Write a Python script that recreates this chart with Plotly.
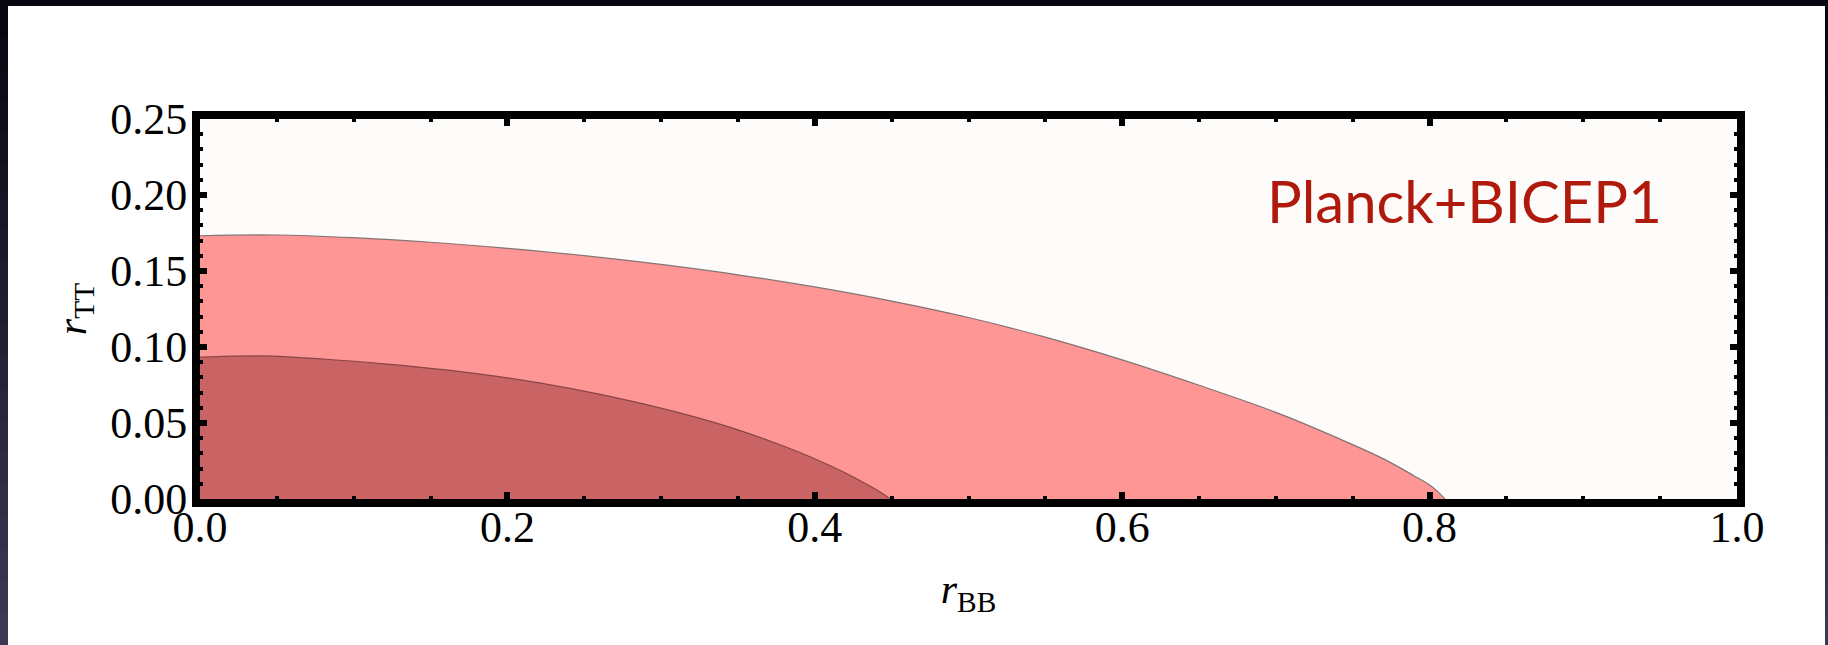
import plotly.graph_objects as go

# ---- data ----
outer_x = [0.00, 0.05, 0.10, 0.15, 0.20, 0.25, 0.30, 0.35, 0.40, 0.45, 0.50,
           0.55, 0.60, 0.65, 0.70, 0.74, 0.77, 0.79, 0.80, 0.805, 0.81]
outer_y = [0.1732, 0.1737, 0.1719, 0.1689, 0.1649, 0.1601, 0.1543, 0.1475,
           0.1395, 0.1302, 0.1194, 0.1065, 0.0915, 0.0748, 0.0570, 0.0402,
           0.0264, 0.0152, 0.0092, 0.0052, 0.0]

inner_x = [0.00, 0.04, 0.08, 0.12, 0.16, 0.20, 0.24, 0.28, 0.32, 0.35, 0.38,
           0.40, 0.42, 0.435, 0.445, 0.449]
inner_y = [0.0933, 0.0941, 0.0921, 0.0889, 0.0849, 0.0797, 0.0729, 0.0645,
           0.0545, 0.0455, 0.0347, 0.0265, 0.0171, 0.0090, 0.0030, 0.0]

x_tickvals = [0.0, 0.2, 0.4, 0.6, 0.8, 1.0]
x_ticktext = ["0.0", "0.2", "0.4", "0.6", "0.8", "1.0"]
y_tickvals = [0.00, 0.05, 0.10, 0.15, 0.20, 0.25]
y_ticktext = ["0.00", "0.05", "0.10", "0.15", "0.20", "0.25"]

label_text = "Planck+BICEP1"
x_title = "<i>r</i><sub>BB</sub>"
y_title = "<i>r</i><sub>TT</sub>"

# ---- layout constants ----
W, H = 1828, 645
ML, MR, MT, MB = 200, 91, 119, 146
PW, PH = W - ML - MR, H - MT - MB


def pxx(px):
    return (px - ML) / PW


def pxy(py):
    return (H - MB - py) / PH


serif = "Liberation Serif, Times New Roman, serif"

fig = go.Figure()
fig.add_trace(go.Scatter(
    x=outer_x, y=outer_y, mode="lines", fill="tozeroy",
    fillcolor="#FF9696", line=dict(color="rgba(110,100,100,0.85)", width=1.2,
                                   shape="spline", smoothing=1.0),
    hoverinfo="skip", showlegend=False))
fig.add_trace(go.Scatter(
    x=inner_x, y=inner_y, mode="lines", fill="tozeroy",
    fillcolor="#CA6464", line=dict(color="rgba(120,60,60,0.85)", width=1.2,
                                   shape="spline", smoothing=1.0),
    hoverinfo="skip", showlegend=False))

axis_common = dict(
    ticks="inside", tickcolor="black", tickwidth=6, ticklen=7,
    showline=True, linewidth=8, linecolor="black", mirror="ticks",
    showgrid=False, zeroline=False, automargin=False, fixedrange=True,
    tickfont=dict(family=serif, size=44, color="black"),
)

fig.update_xaxes(
    range=[0, 1], tickmode="array", tickvals=x_tickvals, ticktext=x_ticktext,
    minor=dict(tickmode="linear", tick0=0, dtick=0.05, ticks="inside",
               ticklen=3, tickwidth=4, tickcolor="black"),
    title=dict(text=x_title, font=dict(family=serif, size=42, color="black"),
               standoff=26),
    ticklabelstandoff=-18,
    **axis_common)
fig.update_yaxes(
    range=[0, 0.25], tickmode="array", tickvals=y_tickvals, ticktext=y_ticktext,
    minor=dict(tickmode="linear", tick0=0, dtick=0.01, ticks="inside",
               ticklen=3, tickwidth=4, tickcolor="black"),
    title=dict(text=y_title, font=dict(family=serif, size=42, color="black"),
               standoff=14),
    ticklabelstandoff=-4,
    **axis_common)

fig.add_annotation(
    x=0.9525, y=0.1967, xref="x", yref="y", xanchor="right", yanchor="middle",
    text=label_text, showarrow=False,
    font=dict(family="Lato, Open Sans, sans-serif", size=58, color="#B01A0C"))

# dark slide border with a vertical gradient
shapes = []
shapes.append(dict(type="rect", xref="paper", yref="paper",
                   x0=pxx(0), x1=pxx(W), y0=pxy(0), y1=pxy(6),
                   fillcolor="rgb(6,6,16)", line=dict(width=0), layer="above"))
nseg = 20
for i in range(nseg):
    t = (i + 0.5) / nseg
    r = int(6 + (60 - 6) * t)
    g = int(6 + (58 - 6) * t)
    b = int(16 + (84 - 16) * t)
    col = f"rgb({r},{g},{b})"
    y0 = 6 + (H - 6) * i / nseg
    y1 = 6 + (H - 6) * (i + 1) / nseg + 1
    for xa, xb in [(0, 8), (1825, W)]:
        shapes.append(dict(type="rect", xref="paper", yref="paper",
                           x0=pxx(xa), x1=pxx(xb), y0=pxy(y0), y1=pxy(y1),
                           fillcolor=col, line=dict(width=0), layer="above"))

fig.update_layout(
    width=W, height=H,
    margin=dict(l=ML, r=MR, t=MT, b=MB, pad=0),
    paper_bgcolor="white", plot_bgcolor="#FDFCFB",
    shapes=shapes, showlegend=False,
)

fig.write_html("out.html")
